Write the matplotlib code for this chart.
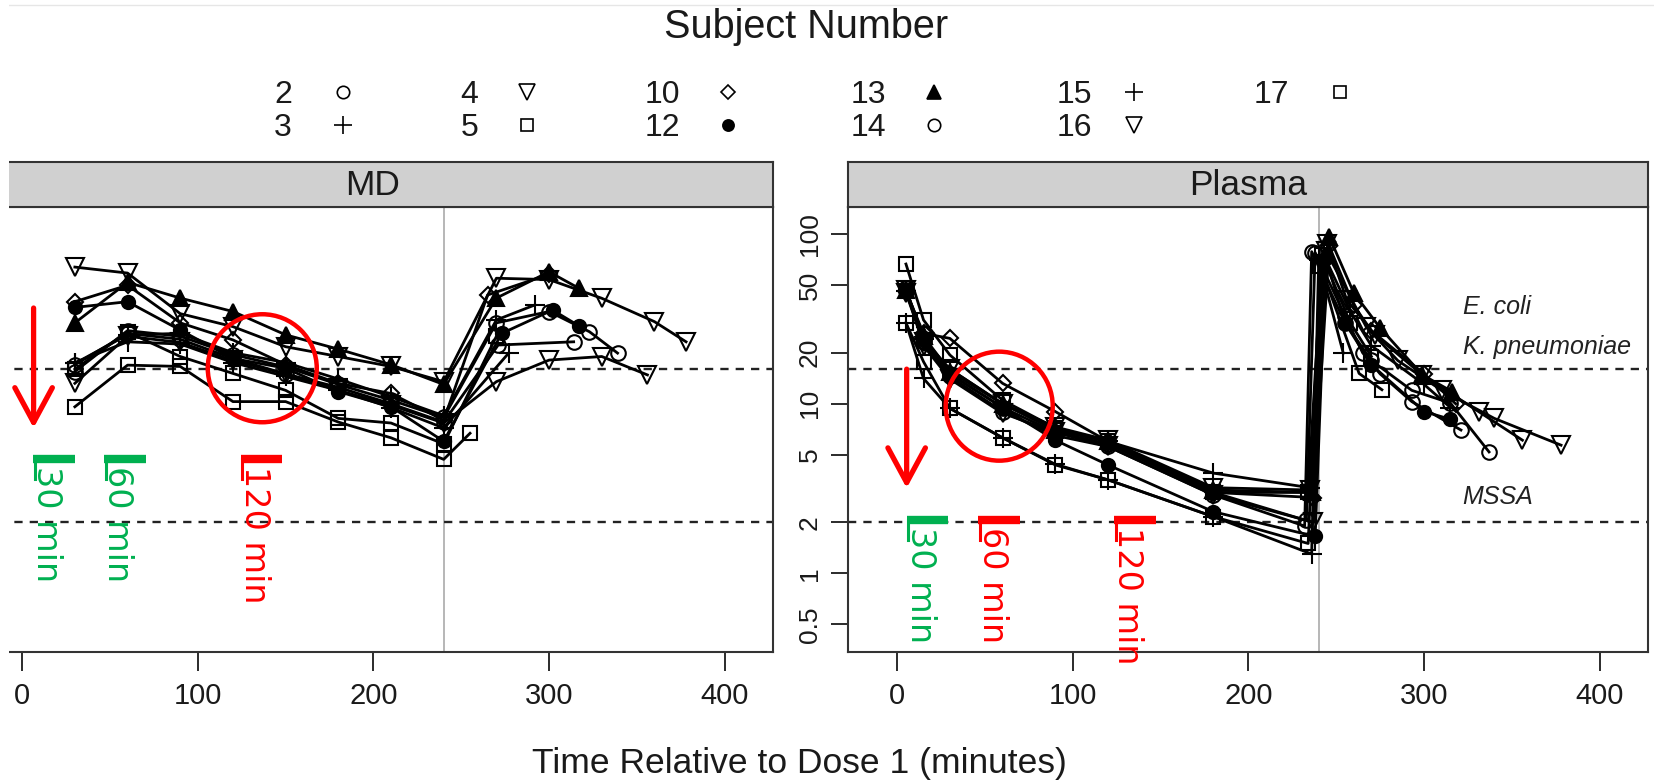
import matplotlib
matplotlib.use("Agg")
import matplotlib.pyplot as plt
from matplotlib.lines import Line2D
from matplotlib.patches import Ellipse, Rectangle
from matplotlib.transforms import ScaledTranslation
import matplotlib.ticker as mticker

plt.rcParams['font.family'] = ['Liberation Sans', 'DejaVu Sans']

# ---------------- data ----------------
subjects = ['2', '3', '4', '5', '10', '12', '13', '14', '15', '16', '17']

# MD (microdialysate) concentrations
md_t_S2 = [30, 60, 90, 120, 150, 180, 210, 240, 271, 314]
md_c_S2 = [17, 26, 24, 18.5, 15, 12.5, 10, 7.8, 22.2, 23.2]
md_t_S3 = [30, 60, 90, 120, 150, 180, 210, 240, 277]
md_c_S3 = [17.5, 23.2, 22.5, 17.5, 14.5, 12, 9.5, 7.2, 19.9]
md_t_S4 = [30, 60, 90, 120, 150, 180, 210, 240, 270, 300, 330, 360, 378]
md_c_S4 = [64, 59, 34, 28.5, 21.7, 19, 16.6, 13.5, 55, 54, 41.9, 30.5, 23.2]
md_t_S5 = [30, 60, 90, 120, 150, 180, 210, 240, 255]
md_c_S5 = [9.6, 16.9, 16.6, 10.3, 10.3, 7.8, 6.3, 4.7, 6.7]
md_t_S10 = [30, 60, 90, 120, 150, 180, 210, 240, 265, 300]
md_c_S10 = [40, 50, 30, 23.8, 17, 13.2, 11.5, 8.0, 43.8, 58]
md_t_S12 = [30, 60, 90, 120, 150, 180, 210, 240, 273, 302, 317]
md_c_S12 = [37, 40, 27.2, 18.5, 16.2, 11.8, 9.6, 6.0, 26, 35.7, 28.8]
md_t_S13 = [30, 60, 90, 120, 150, 180, 210, 240, 270, 300, 317]
md_c_S13 = [30, 52, 42, 35, 25.5, 21, 17, 13, 42, 60, 48]
md_t_S14 = [30, 60, 90, 120, 150, 180, 210, 240, 270, 300, 323, 339]
md_c_S14 = [15.5, 27, 25, 19.5, 16.5, 13, 10.5, 8.3, 30, 35, 26.6, 19.9]
md_t_S15 = [30, 60, 90, 120, 150, 180, 210, 240, 270, 292]
md_c_S15 = [17.3, 25.5, 26, 20, 17.5, 14, 11, 8.5, 31.2, 38.3]
md_t_S16 = [30, 60, 90, 120, 150, 180, 210, 240, 270, 300, 330, 356]
md_c_S16 = [13.2, 25, 23, 18, 15, 12, 9.8, 7.7, 13.5, 18.1, 19, 14.8]
md_t_S17 = [30, 60, 90, 120, 150, 180, 210, 240, 270]
md_c_S17 = [16, 26.5, 19, 15.1, 12, 8.2, 7.7, 5.8, 25]

# Plasma concentrations
pl_t_S2 = [5, 15, 30, 60, 90, 120, 180, 233, 238, 255, 265, 275, 293, 321]
pl_c_S2 = [46, 24, 15, 9.5, 6.8, 5.8, 3.0, 2.05, 78, 33, 20, 15, 10.3, 7.0]
pl_t_S3 = [5, 15, 30, 60, 90, 120, 180, 236, 240, 254]
pl_c_S3 = [30, 14.1, 9.4, 6.3, 4.4, 3.56, 2.16, 1.3, 70, 19.9]
pl_t_S4 = [5, 15, 30, 60, 90, 120, 180, 235, 245, 256, 272, 299, 331, 356]
pl_c_S4 = [45, 23, 16, 10, 7.3, 6.1, 3.2, 3.1, 88, 40.9, 25.5, 14.8, 9, 6.1]
pl_t_S5 = [5, 15, 30, 60, 90, 120, 180, 234, 241, 263, 276]
pl_c_S5 = [30, 17.7, 9.4, 6.3, 4.36, 3.56, 2.16, 1.5, 65, 15.1, 12.1]
pl_t_S10 = [5, 15, 30, 60, 90, 120, 180, 237, 246, 260, 270, 300, 318]
pl_c_S10 = [46, 26, 24.3, 13.2, 9.0, 6.0, 3.0, 2.8, 85, 38, 27, 15, 10]
pl_t_S12 = [5, 15, 30, 60, 90, 120, 180, 238, 244, 255, 270, 300, 315]
pl_c_S12 = [47, 24.3, 15, 9.5, 6.1, 4.36, 2.31, 1.65, 72, 30, 17, 9, 8.1]
pl_t_S13 = [5, 15, 30, 60, 90, 120, 180, 236, 246, 260, 275, 299, 316]
pl_c_S13 = [47, 25, 15.5, 10, 7, 6.0, 3.1, 3.0, 96.7, 45, 28, 14.8, 11.8]
pl_t_S14 = [5, 15, 30, 60, 90, 120, 180, 232, 236, 255, 270, 293, 315, 337]
pl_c_S14 = [48, 23, 14.5, 9.0, 6.5, 5.6, 2.9, 1.9, 78.9, 30, 18, 12, 10.1, 5.2]
pl_t_S15 = [5, 15, 30, 60, 90, 120, 180, 235, 243, 258, 270, 300, 315]
pl_c_S15 = [46, 24, 16, 10, 7, 6.0, 3.9, 3.2, 75, 35, 22, 13, 9.5]
pl_t_S16 = [5, 15, 30, 60, 90, 120, 180, 237, 244, 267, 285, 310, 340, 378]
pl_c_S16 = [47, 22, 14, 8.8, 6.8, 5.6, 2.9, 2.0, 80, 28.5, 18, 12, 8.2, 5.7]
pl_t_S17 = [5, 15, 30, 60, 90, 120, 180, 234, 242, 258, 270]
pl_c_S17 = [66.7, 31.2, 19.4, 10.5, 7.2, 6.0, 3.0, 3.0, 75, 30, 19]

x_ticks = [0, 100, 200, 300, 400]
y_ticks = [0.5, 1, 2, 5, 10, 20, 50, 100]
y_tick_labels = ['0.5', '1', '2', '5', '10', '20', '50', '100']
breakpoints = [16, 2]
dose2_time = 240
panel_names = ['MD', 'Plasma']
organism_labels = [('E. coli', 37.3), ('K. pneumoniae', 21.6), ('MSSA', 2.82)]

md_data = {
    '2': (md_t_S2, md_c_S2), '3': (md_t_S3, md_c_S3), '4': (md_t_S4, md_c_S4),
    '5': (md_t_S5, md_c_S5), '10': (md_t_S10, md_c_S10), '12': (md_t_S12, md_c_S12),
    '13': (md_t_S13, md_c_S13), '14': (md_t_S14, md_c_S14), '15': (md_t_S15, md_c_S15),
    '16': (md_t_S16, md_c_S16), '17': (md_t_S17, md_c_S17),
}
pl_data = {
    '2': (pl_t_S2, pl_c_S2), '3': (pl_t_S3, pl_c_S3), '4': (pl_t_S4, pl_c_S4),
    '5': (pl_t_S5, pl_c_S5), '10': (pl_t_S10, pl_c_S10), '12': (pl_t_S12, pl_c_S12),
    '13': (pl_t_S13, pl_c_S13), '14': (pl_t_S14, pl_c_S14), '15': (pl_t_S15, pl_c_S15),
    '16': (pl_t_S16, pl_c_S16), '17': (pl_t_S17, pl_c_S17),
}

# marker styles (R lattice pch equivalents)
styles = {
    '2': ('o', 'none', 10.5), '3': ('+', 'none', 15), '4': ('v', 'none', 13),
    '5': ('s', 'none', 10), '10': ('D', 'none', 8.5), '12': ('o', 'black', 9.5),
    '13': ('^', 'black', 12), '14': ('o', 'none', 10.5), '15': ('+', 'none', 15),
    '16': ('v', 'none', 13), '17': ('s', 'none', 10),
}

# ---------------- layout ----------------
W, H = 1654, 780
fig = plt.figure(figsize=(W / 100, H / 100), dpi=100)


def fx(px):
    return px / W


def fy(py):
    return 1 - py / H


ax_top, ax_bot, strip_top = 206.7, 651.7, 161.7
ax_h = (ax_bot - ax_top) / H
panel_left_px = [-27, 848]
panel_w_px = 800
XLIM = (-28, 427.5)
YLIM = (0.345, 145.3)

axes = []
for i, name in enumerate(panel_names):
    ax = fig.add_axes([fx(panel_left_px[i]), fy(ax_bot), fx(panel_w_px), ax_h])
    sax = fig.add_axes([fx(panel_left_px[i]), fy(ax_top), fx(panel_w_px), (ax_top - strip_top) / H])
    sax.set_facecolor('#d0d0d0')
    sax.set_xticks([])
    sax.set_yticks([])
    for s in sax.spines.values():
        s.set_linewidth(1.5)
        s.set_color('#333333')
    sax.text(0.5, 0.47, name, transform=sax.transAxes, ha='center', va='center',
             fontsize=25.5, color='#1a1a1a')
    axes.append(ax)

axL, axR = axes
for ax, data in ((axL, md_data), (axR, pl_data)):
    ax.set_yscale('log')
    ax.set_xlim(*XLIM)
    ax.set_ylim(*YLIM)
    for s in ax.spines.values():
        s.set_linewidth(1.5)
        s.set_color('#333333')
    ax.axvline(dose2_time, color='#aaaaaa', lw=1.2, zorder=1)
    for b in breakpoints:
        ax.axhline(b, color='#222222', lw=1.7, ls=(0, (3.5, 3)), zorder=1)
    for sid in subjects:
        t, c = data[sid]
        m, fc, ms = styles[sid]
        ax.plot(t, c, color='black', lw=2.0, marker=m, ms=ms, mfc=fc, mec='black',
                mew=1.5, zorder=3)
    ax.set_xticks(x_ticks)
    ax.set_xticklabels([str(v) for v in x_ticks])
    ax.tick_params(axis='x', direction='out', length=13.5, width=1.3, pad=8,
                   labelsize=21, colors='#1a1a1a')
    ax.yaxis.set_minor_locator(mticker.NullLocator())

axL.set_yticks([])
axR.set_yticks(y_ticks)
axR.set_yticklabels(y_tick_labels, rotation=90, va='center')
axR.tick_params(axis='y', direction='out', length=12, width=1.3, pad=7,
                labelsize=19, colors='#1a1a1a')

for label, yv in organism_labels:
    axR.text(322, yv, label, fontsize=18, style='italic', ha='left', va='center',
             color='#222222')

# ---------------- annotations (red/green overlays) ----------------
RED = '#ff0000'
GREEN = '#00b050'


def arrow(ax, x, y0, y1):
    ax.annotate('', xy=(x, y1), xytext=(x, y0), annotation_clip=False,
                arrowprops=dict(arrowstyle='->,head_length=2.5,head_width=1.35',
                                color=RED, lw=3.8, shrinkA=0, shrinkB=0,
                                mutation_scale=10))


def bar(ax, x0, x1, y, color, text):
    ax.plot([x0, x1], [y, y], color=color, lw=6, solid_capstyle='butt',
            clip_on=False, zorder=5)
    ax.plot([x0 + 1, x0 + 1], [y, y * 10 ** (-20 / 169.6)], color=color, lw=2.2,
            clip_on=False, zorder=5)
    ax.annotate(text, xy=(x0, y), xytext=(-2, -5), textcoords='offset points',
                rotation=270, ha='left', va='top', fontsize=24, color=color,
                family='DejaVu Sans', annotation_clip=False, zorder=5)


def ring(ax, x, y, w_px, h_px):
    e = Ellipse((0, 0), w_px / 100, h_px / 100,
                transform=fig.dpi_scale_trans + ScaledTranslation(x, y, ax.transData),
                fill=False, ec=RED, lw=3.2, zorder=6)
    fig.add_artist(e)


arrow(axL, 6.5, 36.7, 7.2)
bar(axL, 6.2, 30.1, 4.73, GREEN, '30 min')
bar(axL, 46.6, 70.5, 4.73, GREEN, '60 min')
bar(axL, 124.4, 148.1, 4.73, RED, '120 min')
ring(axL, 136.7, 16.2, 109, 108)

arrow(axR, 5.4, 16.0, 3.18)
bar(axR, 5.4, 29.1, 2.07, GREEN, '30 min')
bar(axR, 46.2, 69.9, 2.07, RED, '60 min')
bar(axR, 123.4, 147.2, 2.07, RED, '120 min')
ring(axR, 58.1, 9.68, 107, 109)

# ---------------- legend (key) ----------------
fig.text(fx(806.5), fy(38.3), 'Subject Number', ha='center', va='baseline',
         fontsize=28.5, color='#1a1a1a')
col_text_right = [292, 478, 680, 886, 1092, 1289]
col_marker_x = [343, 527, 728, 934, 1134, 1340]
row_y = [91.7, 125]
for k, sid in enumerate(subjects):
    col, row = divmod(k, 2)
    fig.text(fx(col_text_right[col]), fy(row_y[row] + 11.5), sid, ha='right',
             va='baseline', fontsize=23, color='#1a1a1a')
    m, fc, ms = styles[sid]
    fig.add_artist(Line2D([fx(col_marker_x[col])], [fy(row_y[row])],
                          transform=fig.transFigure, marker=m, ms=ms * 0.85,
                          mfc=fc, mec='black', mew=1.2, ls='none'))

fig.add_artist(Line2D([0, 1], [fy(5), fy(5)], transform=fig.transFigure,
                      color='#e6e6e6', lw=1))

# white margin on the left edge (cropped panel)
fig.add_artist(Rectangle((0, 0), fx(9), 1, transform=fig.transFigure,
                         facecolor='white', edgecolor='none', zorder=20))

fig.text(fx(799), fy(773), 'Time Relative to Dose 1 (minutes)', ha='center',
         va='baseline', fontsize=25.5, color='#1a1a1a')

fig.savefig('out.png', dpi=100)
